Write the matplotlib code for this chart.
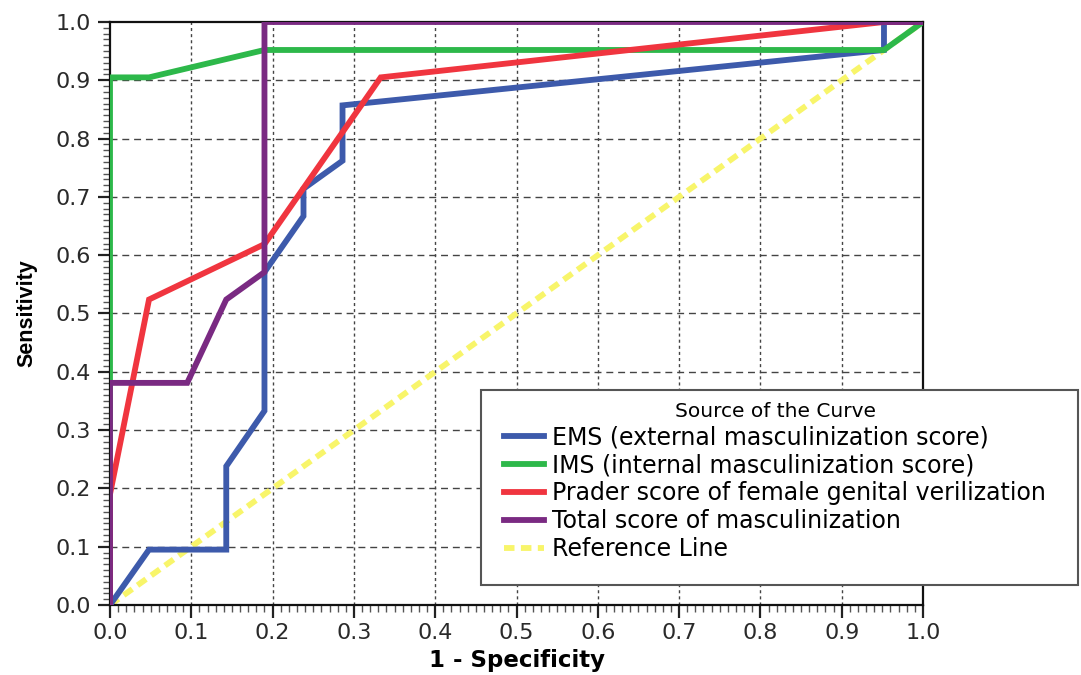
import matplotlib
matplotlib.use("Agg")
import matplotlib.pyplot as plt
from matplotlib.patches import Rectangle
from matplotlib.ticker import MultipleLocator

# ---- data (1 - specificity, sensitivity) ----
ems_x = [0.0, 0.048, 0.143, 0.143, 0.190, 0.190, 0.238, 0.238, 0.286, 0.286, 0.952, 0.952, 1.0]
ems_y = [0.0, 0.095, 0.095, 0.238, 0.333, 0.571, 0.667, 0.714, 0.762, 0.857, 0.952, 1.0, 1.0]

ims_x = [0.0, 0.0, 0.048, 0.190, 0.952, 1.0]
ims_y = [0.0, 0.905, 0.905, 0.952, 0.952, 1.0]

prader_x = [0.0, 0.0, 0.048, 0.190, 0.333, 0.952, 1.0]
prader_y = [0.0, 0.190, 0.524, 0.619, 0.905, 1.0, 1.0]

total_x = [0.0, 0.0, 0.095, 0.143, 0.190, 0.190, 1.0]
total_y = [0.0, 0.381, 0.381, 0.524, 0.571, 1.0, 1.0]

ref_x = [0.0, 1.0]
ref_y = [0.0, 1.0]

labels = ["EMS (external masculinization score)",
          "IMS (internal masculinization score)",
          "Prader score of female genital verilization",
          "Total score of masculinization",
          "Reference Line"]
colors = ["#3d5aab", "#2db84a", "#f0353f", "#7a2a82", "#f8f56a"]
ticks = [round(0.1 * i, 1) for i in range(11)]

W, H = 1081, 675
fig = plt.figure(figsize=(W / 100, H / 100), dpi=100)
ax = fig.add_axes([110 / W, 1 - 605 / H, (923 - 110) / W, (605 - 22) / H])

lw = 4.2
dash = (0, (1.8, 1.1))
l5, = ax.plot(ref_x, ref_y, color=colors[4], lw=lw, ls=dash, zorder=2)
l1, = ax.plot(ems_x, ems_y, color=colors[0], lw=lw, zorder=3, solid_joinstyle="miter")
l2, = ax.plot(ims_x, ims_y, color=colors[1], lw=lw, zorder=3, solid_joinstyle="miter")
l3, = ax.plot(prader_x, prader_y, color=colors[2], lw=lw, zorder=4, solid_joinstyle="miter")
l4, = ax.plot(total_x, total_y, color=colors[3], lw=lw, zorder=5, solid_joinstyle="miter")

ax.set_xlim(0, 1)
ax.set_ylim(0, 1)
ax.set_xticks(ticks)
ax.set_yticks(ticks)
ax.set_xticklabels([f"{t:.1f}" for t in ticks])
ax.set_yticklabels([f"{t:.1f}" for t in ticks])
ax.xaxis.set_minor_locator(MultipleLocator(0.01))
ax.yaxis.set_minor_locator(MultipleLocator(0.01))
ax.tick_params(which="major", direction="out", length=9, width=1.6, color="#222222",
               labelsize=16, labelcolor="#2a2a2a")
ax.tick_params(axis="y", which="major", pad=5)
ax.tick_params(axis="x", which="major", pad=4)
ax.tick_params(which="minor", direction="out", length=5, width=1.0, color="#555555")
for lab in ax.get_xticklabels() + ax.get_yticklabels():
    lab.set_fontfamily("DejaVu Sans")

for t in ticks[1:-1]:
    ax.axhline(t, color="#444444", lw=1.0, ls=(0, (5, 3.5)), zorder=1)
    ax.axvline(t, color="#444444", lw=1.0, ls=(0, (2.2, 2.2)), zorder=1)

for s in ax.spines.values():
    s.set_color("#111111")
    s.set_linewidth(1.6)

fig.text(27 / W, 1 - 313 / H, "Sensitivity", rotation=90, ha="center", va="center",
         fontsize=15.5, fontweight="bold",
         family=["Liberation Sans Narrow", "Liberation Sans"])
fig.text(517 / W, 1 - 661 / H, "1 - Specificity", ha="center", va="center",
         fontsize=16.5, fontweight="bold", family="DejaVu Sans")

# legend frame
fig.patches.append(Rectangle((481 / W, 1 - 585 / H), (1078 - 481) / W, (585 - 390) / H,
                             transform=fig.transFigure, facecolor="white",
                             edgecolor="#555555", lw=1.5, zorder=10))
leg = fig.legend([l1, l2, l3, l4, l5], labels, title="Source of the Curve",
                 loc="upper left", bbox_to_anchor=(504 / W, 1 - 402 / H),
                 frameon=False, prop={"family": "DejaVu Sans", "size": 17},
                 title_fontproperties={"family": "DejaVu Sans", "size": 14.5},
                 handlelength=1.7, handletextpad=0.35, labelspacing=0.17,
                 borderaxespad=0, borderpad=0.0)
leg.set_zorder(11)
leg._legend_box.align = "center"
for h in leg.legend_handles:
    h.set_linewidth(4.2)

fig.savefig("out.png", dpi=100)
